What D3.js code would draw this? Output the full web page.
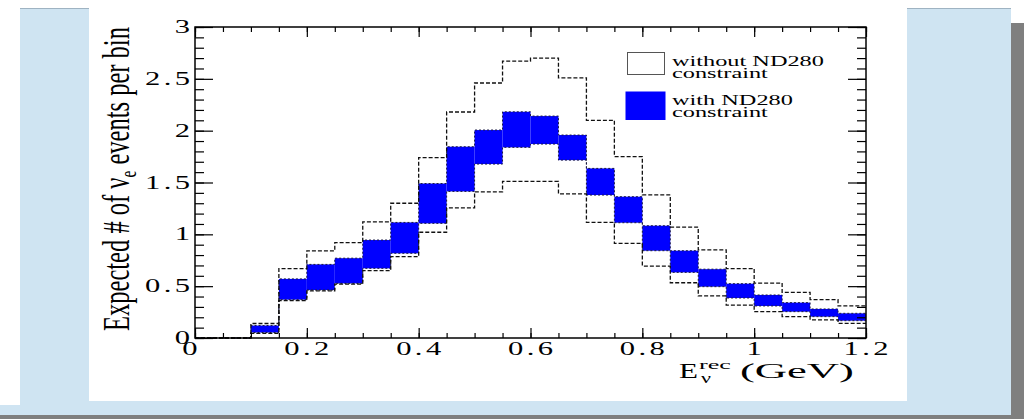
<!DOCTYPE html>
<html>
<head>
<meta charset="utf-8">
<script src="https://cdn.jsdelivr.net/npm/d3@7"></script>
<style>
  html, body { margin: 0; padding: 0; background: #ffffff; }
  svg { display: block; }
</style>
</head>
<body>
<svg id="chart" width="1024" height="419" font-family="'Liberation Serif', 'DejaVu Serif', 'Times New Roman', serif"></svg>
<script>
// Bin edges of the reconstructed-energy histogram (GeV)
const binEdges = [0, 0.05, 0.1, 0.15, 0.2, 0.25, 0.3, 0.35, 0.4, 0.45, 0.5, 0.55,
                  0.6, 0.65, 0.7, 0.75, 0.8, 0.85, 0.9, 0.95, 1.0, 1.05, 1.1, 1.15, 1.2];

// Error band without the ND280 constraint (upper / lower edge per bin)
const withoutUpper = [0, 0, 0.14, 0.67, 0.84, 0.92, 1.12, 1.30, 1.74, 2.18, 2.46, 2.67,
                      2.70, 2.51, 2.10, 1.75, 1.38, 1.07, 0.85, 0.67, 0.53, 0.44, 0.37, 0.31];
const withoutLower = [0, 0, 0.045, 0.36, 0.455, 0.52, 0.65, 0.785, 1.02, 1.255, 1.41, 1.51,
                      1.51, 1.39, 1.115, 0.913, 0.694, 0.533, 0.407, 0.318, 0.254, 0.206, 0.174, 0.142];

// Error band with the ND280 constraint
const withUpper = [0, 0, 0.12, 0.57, 0.71, 0.77, 0.945, 1.115, 1.49, 1.845, 2.006, 2.182,
                   2.141, 1.958, 1.636, 1.363, 1.083, 0.842, 0.664, 0.524, 0.415, 0.341, 0.28, 0.238];
const withLower = [0, 0, 0.053, 0.37, 0.463, 0.527, 0.672, 0.817, 1.106, 1.414, 1.678, 1.839,
                   1.871, 1.716, 1.379, 1.112, 0.842, 0.633, 0.495, 0.386, 0.309, 0.254, 0.206, 0.167];

// Axis ticks and labels
const yMajorTicks = [0, 0.5, 1, 1.5, 2, 2.5, 3];
const yTickLabels = ["0", "0.5", "1", "1.5", "2", "2.5", "3"];
const xMajorTicks = [0, 0.2, 0.4, 0.6, 0.8, 1.0, 1.2];
const xTickLabels = ["0", "0.2", "0.4", "0.6", "0.8", "1", "1.2"];

// Legend entries
const legendLines = [["without ND280", "constraint"], ["with ND280", "constraint"]];

const svg = d3.select("#chart");
const BLUE = "#0000ff";
const PANEL = "#cfe4f2";

// ---- slide background: light panel with a grey drop shadow ----
svg.append("rect").attr("x", 1011).attr("y", 23).attr("width", 13).attr("height", 396).attr("fill", "#7f7f7f");
svg.append("rect").attr("x", 0).attr("y", 415).attr("width", 1024).attr("height", 4).attr("fill", "#7f7f7f");
svg.append("rect").attr("x", 20).attr("y", 8.5).attr("width", 991).attr("height", 406.5).attr("fill", PANEL);
svg.append("rect").attr("x", 0).attr("y", 405).attr("width", 1011).attr("height", 10).attr("fill", PANEL);
svg.append("line").attr("x1", 20).attr("x2", 1011).attr("y1", 8.5).attr("y2", 8.5)
   .attr("stroke", "#9fb3c2").attr("stroke-width", 1);
// white canvas that holds the plot
svg.append("rect").attr("x", 89).attr("y", 0).attr("width", 818).attr("height", 401).attr("fill", "#ffffff");

// ---- scales ----
const x = d3.scaleLinear().domain([0, 1.2]).range([195, 866]);
const y = d3.scaleLinear().domain([0, 3]).range([338, 27]);

const plot = svg.append("g");

// ---- constrained band: filled blue boxes ----
const bins = binEdges.slice(0, -1).map((e, i) => ({
  x0: e, x1: binEdges[i + 1], lo: withLower[i], hi: withUpper[i]
}));
plot.selectAll("rect.band").data(bins.filter(d => d.hi > d.lo)).join("rect")
  .attr("class", "band")
  .attr("x", d => x(d.x0))
  .attr("width", d => x(d.x1) - x(d.x0))
  .attr("y", d => y(d.hi))
  .attr("height", d => y(d.lo) - y(d.hi))
  .attr("fill", BLUE);

// step outline of a per-bin series
const stepLine = d3.line().x(d => x(d[0])).y(d => y(d[1])).curve(d3.curveStepAfter);
const stepPoints = vals => binEdges.slice(0, -1).map((e, i) => [e, vals[i]])
  .concat([[binEdges[binEdges.length - 1], vals[vals.length - 1]]]);

[withUpper, withLower].forEach(vals => {
  plot.append("path").attr("d", stepLine(stepPoints(vals)))
    .attr("fill", "none").attr("stroke", "#1a1a40").attr("stroke-width", 1)
    .attr("stroke-dasharray", "2,2");
});
[withoutUpper, withoutLower].forEach(vals => {
  plot.append("path").attr("d", stepLine(stepPoints(vals)))
    .attr("fill", "none").attr("stroke", "#111").attr("stroke-width", 1.3)
    .attr("stroke-dasharray", "4,2");
});

// ---- frame and inward ticks on all four sides ----
const axes = svg.append("g").attr("class", "axes");
function drawAxis(axis, tx, ty) {
  const g = axes.append("g").attr("transform", `translate(${tx},${ty})`).call(axis);
  g.select(".domain").remove();
  g.selectAll("text").remove();
  g.selectAll(".tick line").attr("stroke", "#000").attr("stroke-width", 1.2);
}
const yMinor = y.ticks(30), xMinor = x.ticks(24);
drawAxis(d3.axisLeft(y).tickValues(yMinor).tickSize(-9), 195, 0);
drawAxis(d3.axisLeft(y).tickValues(yMajorTicks).tickSize(-18), 195, 0);
drawAxis(d3.axisRight(y).tickValues(yMinor).tickSize(-9), 866, 0);
drawAxis(d3.axisRight(y).tickValues(yMajorTicks).tickSize(-18), 866, 0);
drawAxis(d3.axisBottom(x).tickValues(xMinor).tickSize(-5), 0, 338);
drawAxis(d3.axisBottom(x).tickValues(xMajorTicks).tickSize(-10), 0, 338);
drawAxis(d3.axisTop(x).tickValues(xMinor).tickSize(-5), 0, 27);
drawAxis(d3.axisTop(x).tickValues(xMajorTicks).tickSize(-10), 0, 27);
axes.append("rect").attr("x", 195).attr("y", 27).attr("width", 866 - 195).attr("height", 338 - 27)
  .attr("fill", "none").attr("stroke", "#000").attr("stroke-width", 1.5);

// ---- horizontally stretched text ----
// A text is drawn at (px, py); its glyphs are widened by sx (or by whatever
// factor makes the natural width equal `width`).
function wideText(parent, px, py, str, opts) {
  const o = Object.assign({ size: 18, sx: 1, ls: 0, anchor: "start" }, opts);
  const g = parent.append("g").attr("transform", `translate(${px},${py})`);
  const t = g.append("text").text(str)
    .attr("font-size", o.size)
    .attr("text-anchor", o.anchor)
    .attr("letter-spacing", o.ls)
    .attr("fill", "#000");
  if (o.anchor === "end") t.attr("dx", o.ls);
  if (o.anchor === "middle") t.attr("dx", o.ls / 2);
  let sx = o.sx;
  if (o.width) sx = o.width / (t.node().getComputedTextLength() - o.ls);
  t.attr("transform", `scale(${sx},1)`);
  return sx;
}
function naturalWidth(str, size, ls) {
  const t = svg.append("text").text(str).attr("font-size", size).attr("letter-spacing", ls || 0);
  const w = t.node().getComputedTextLength() - (ls || 0);
  t.remove();
  return w;
}

// tick labels: one common stretch so that "0.2" is about 45 px wide
const LABEL_SIZE = 18, LABEL_LS = 2;
const labelSx = 45 / naturalWidth("0.2", LABEL_SIZE, LABEL_LS);
const labels = svg.append("g");
yMajorTicks.forEach((v, i) => {
  wideText(labels, 190, y(v) + 6, yTickLabels[i], { size: LABEL_SIZE, sx: labelSx, ls: LABEL_LS, anchor: "end" });
});
xMajorTicks.forEach((v, i) => {
  wideText(labels, x(v) - (v === 0 ? 5 : 0), 355, xTickLabels[i], { size: LABEL_SIZE, sx: labelSx, ls: LABEL_LS, anchor: "middle" });
});

// x-axis title: E_nu^rec (GeV)
wideText(labels, 679, 378, "E", { size: 20, width: 19 });
wideText(labels, 699, 369, "rec", { size: 13, width: 32 });
wideText(labels, 701, 383, "ν", { size: 14, width: 10 });
wideText(labels, 740, 378, "(GeV)", { size: 20, width: 114 });

// y-axis title: condensed, reading upwards
const yt = svg.append("g").attr("transform", "translate(129,179) rotate(-90)")
  .append("text").attr("font-size", 38).attr("text-anchor", "middle").attr("fill", "#000");
yt.append("tspan").text("Expected # of ");
yt.append("tspan").text("ν");
yt.append("tspan").text("e").attr("font-size", 24).attr("dy", 7);
yt.append("tspan").text(" events per bin").attr("dy", -7);
yt.attr("transform", `scale(${304 / yt.node().getComputedTextLength()},1)`);

// ---- legend ----
const legend = svg.append("g");
legend.append("rect").attr("x", 627.5).attr("y", 52.5).attr("width", 37).attr("height", 22)
  .attr("fill", "#fff").attr("stroke", "#555").attr("stroke-width", 1);
legend.append("rect").attr("x", 625.5).attr("y", 91.5).attr("width", 40).attr("height", 28.5)
  .attr("fill", BLUE);
const legendSx = 152 / naturalWidth("without ND280", 14);
const legendBase = [[65.5, 77.5], [104.5, 116.5]];
legendLines.forEach((lines, i) => {
  lines.forEach((s, j) => {
    wideText(legend, 672, legendBase[i][j], s, { size: 14, sx: legendSx });
  });
});
</script>
</body>
</html>
